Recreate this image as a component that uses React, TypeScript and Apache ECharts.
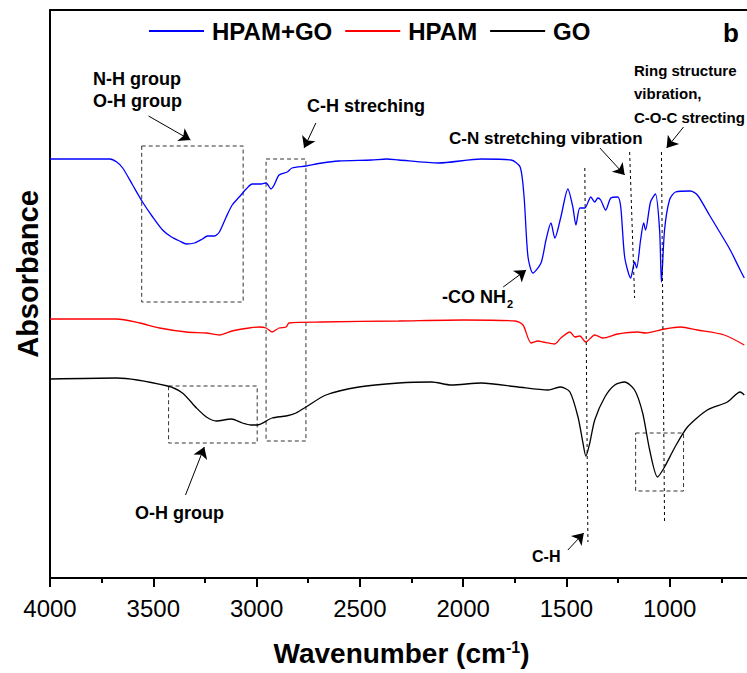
import React, { useEffect, useRef } from "react";
import * as echarts from "echarts";

// Wavenumber (cm-1) and absorbance (arbitrary units, offset traces)
const hpamGoWavenumber = [4000, 3855, 3711, 3677, 3648, 3600, 3552, 3503, 3455, 3412, 3373, 3339, 3301, 3262, 3238, 3204, 3180, 3147, 3118, 3084, 3050, 3021, 2978, 2954, 2930, 2915, 2891, 2852, 2828, 2761, 2684, 2602, 2443, 2370, 2312, 2120, 1912, 1768, 1724, 1705, 1686, 1662, 1623, 1599, 1575, 1556, 1527, 1493, 1469, 1454, 1435, 1411, 1382, 1363, 1348, 1334, 1310, 1285, 1252, 1237, 1218, 1189, 1170, 1160, 1141, 1126, 1117, 1093, 1069, 1049, 1040, 1025, 1001, 972, 900, 866, 808, 770, 707, 659, 639];
const hpamGoAbsorbance = [419, 419, 419, 416, 410, 393, 376, 361, 348, 341, 337, 334, 335, 339, 342, 342, 346, 361, 373, 381, 389, 394, 394, 395, 389, 393, 403, 406, 410, 412, 415, 417, 418, 419, 418, 415, 419, 418, 411, 381, 321, 305, 315, 338, 355, 340, 361, 389, 371, 353, 370, 370, 381, 376, 380, 378, 368, 380, 381, 371, 321, 300, 316, 310, 338, 355, 348, 376, 384, 348, 296, 348, 378, 386, 387, 383, 363, 350, 328, 308, 300];

const hpamWavenumber = [4000, 3677, 3566, 3470, 3339, 3243, 3180, 3118, 3036, 2987, 2954, 2925, 2891, 2857, 2843, 2684, 2312, 2000, 1748, 1710, 1671, 1637, 1613, 1556, 1527, 1483, 1459, 1435, 1406, 1363, 1324, 1252, 1155, 1117, 1025, 948, 866, 736, 639];
const hpamAbsorbance = [259, 259, 255, 250, 246, 245, 243, 247, 250, 251, 250, 246, 250, 251, 255, 256, 257, 258, 257, 253, 235, 237, 236, 234, 240, 246, 241, 242, 236, 243, 240, 244, 246, 245, 249, 251, 248, 243, 233];

const goWavenumber = [4000, 3677, 3431, 3359, 3291, 3243, 3195, 3122, 3069, 3026, 2997, 2925, 2857, 2809, 2761, 2664, 2505, 2312, 2153, 2057, 1912, 1734, 1589, 1527, 1483, 1444, 1420, 1406, 1387, 1363, 1314, 1266, 1218, 1170, 1131, 1097, 1059, 1025, 977, 914, 818, 721, 659, 639];
const goAbsorbance = [199, 200, 192, 185, 170, 161, 157, 159, 155, 153, 153, 160, 162, 165, 171, 183, 191, 195, 196, 193, 195, 191, 188, 191, 186, 161, 135, 122, 135, 158, 181, 193, 196, 188, 165, 128, 101, 111, 130, 151, 168, 176, 186, 183];

const seriesNames = ["HPAM+GO", "HPAM", "GO"];
const seriesColors = ["#0000ff", "#ff0000", "#000000"];

// Annotation geometry in data coordinates [wavenumber, absorbance]
const boxes = [
  [[3556, 432], [3065, 276]],
  [[2954, 419], [2761, 137]],
  [[3426, 192], [2997, 135]],
  [[1165, 145], [933, 87]],
];
const dashedLines = [
  [[1411, 410], [1396, 36]],
  [[1194, 426], [1170, 280]],
  [[1040, 426], [1025, 55]],
];
const arrows = [
  [[3523, 462], [3320, 438]],
  [[2713, 455], [2770, 430]],
  [[1338, 430], [1218, 403]],
  [[933, 451], [1015, 430]],
  [[1806, 291], [1695, 308]],
  [[3344, 83], [3253, 131]],
  [[1493, 28], [1416, 45]],
];

const FONT = '"Liberation Sans", Arial, Helvetica, sans-serif';

function zip(xs: number[], ys: number[]) {
  return xs.map((x, i) => [x, ys[i]]);
}

function label(text: string, x: number, y: number, size: number) {
  return {
    type: "text",
    x,
    y,
    silent: true,
    style: {
      text,
      fill: "#000",
      fontSize: size,
      fontWeight: "bold",
      fontFamily: FONT,
      align: "left",
      verticalAlign: "middle",
    },
  };
}

export default function App() {
  const ref = useRef<HTMLDivElement>(null);
  useEffect(() => {
    if (!ref.current) return;
    const chart = echarts.init(ref.current, null, { renderer: "svg" });
    const lineBase = {
      type: "line",
      showSymbol: false,
      symbol: "none",
      smooth: 0.25,
      silent: true,
      clip: true,
      xAxisIndex: 0,
      yAxisIndex: 0,
    };
    chart.setOption({
      animation: false,
      backgroundColor: "#fff",
      grid: { left: 50, right: 0, top: 10, bottom: 95 },
      legend: {
        data: seriesNames,
        left: 149,
        top: 19,
        padding: 0,
        icon: "rect",
        itemWidth: 55,
        itemHeight: 2,
        itemGap: 13,
        selectedMode: false,
        textStyle: {
          fontSize: 24,
          fontWeight: "bold",
          fontFamily: FONT,
          color: "#000",
          padding: [0, 0, 0, 3],
        },
      },
      xAxis: [
        {
          type: "value",
          min: 500,
          max: 4000,
          interval: 500,
          inverse: true,
          position: "bottom",
          name: "{a|Wavenumber (cm}{s|-1}{a|)}",
          nameLocation: "middle",
          nameGap: 61,
          nameTextStyle: {
            padding: [0, 20, 0, 0],
            rich: {
              a: { fontSize: 28, fontWeight: "bold", fontFamily: FONT, color: "#000", verticalAlign: "bottom" },
              s: { fontSize: 16, fontWeight: "bold", fontFamily: FONT, color: "#000", verticalAlign: "top" },
            },
          },
          axisLine: { show: true, onZero: false, lineStyle: { color: "#000", width: 2 } },
          axisTick: { show: true, inside: false, length: 9, lineStyle: { color: "#000", width: 2 } },
          minorTick: { show: true, splitNumber: 2, length: 5, lineStyle: { color: "#000", width: 2 } },
          axisLabel: {
            margin: 18,
            fontSize: 24,
            fontFamily: FONT,
            color: "#000",
            formatter: (v: number) => (v < 1000 ? "" : String(v)),
          },
          splitLine: { show: false },
          minorSplitLine: { show: false },
        },
        {
          type: "value",
          min: 500,
          max: 4000,
          interval: 500,
          inverse: true,
          position: "top",
          axisLine: { show: true, onZero: false, lineStyle: { color: "#000", width: 2 } },
          axisTick: { show: false },
          axisLabel: { show: false },
          splitLine: { show: false },
        },
      ],
      yAxis: {
        type: "value",
        min: 0,
        max: 568,
        name: "Absorbance",
        nameLocation: "middle",
        nameRotate: 90,
        nameGap: 8,
        nameTextStyle: {
          fontSize: 29,
          fontWeight: "bold",
          fontFamily: FONT,
          color: "#000",
          padding: [0, 0, 0, 40],
        },
        axisLine: { show: true, onZero: false, lineStyle: { color: "#000", width: 2 } },
        axisTick: { show: false },
        axisLabel: { show: false },
        splitLine: { show: false },
      },
      series: [
        {
          ...lineBase,
          name: seriesNames[0],
          data: zip(hpamGoWavenumber, hpamGoAbsorbance),
          lineStyle: { color: seriesColors[0], width: 1.3 },
          itemStyle: { color: seriesColors[0] },
          markLine: {
            silent: true,
            symbol: ["none", "arrow"],
            symbolSize: 11,
            label: { show: false },
            lineStyle: { color: "#000", width: 1, type: "solid" },
            data: arrows.map(([a, b]) => [{ coord: a }, { coord: b }]),
          },
        },
        {
          ...lineBase,
          name: seriesNames[1],
          data: zip(hpamWavenumber, hpamAbsorbance),
          lineStyle: { color: seriesColors[1], width: 1.3 },
          itemStyle: { color: seriesColors[1] },
          markLine: {
            silent: true,
            symbol: ["none", "none"],
            label: { show: false },
            lineStyle: { color: "#000", width: 1, type: [3, 3] },
            data: dashedLines.map(([a, b]) => [{ coord: a }, { coord: b }]),
          },
        },
        {
          ...lineBase,
          name: seriesNames[2],
          data: zip(goWavenumber, goAbsorbance),
          lineStyle: { color: seriesColors[2], width: 1.3 },
          itemStyle: { color: seriesColors[2] },
          markArea: {
            silent: true,
            label: { show: false },
            itemStyle: { color: "rgba(0,0,0,0)", borderColor: "#333", borderWidth: 1, borderType: [4, 3] },
            data: boxes.map(([a, b]) => [{ coord: a }, { coord: b }]),
          },
        },
      ],
      graphic: [
        label("b", 723, 33, 26),
        label("N-H group", 93, 79, 18),
        label("O-H group", 93, 101, 18),
        label("C-H streching", 307, 106, 18),
        label("C-N stretching vibration", 449, 138, 17),
        label("Ring structure", 634, 70, 15),
        label("vibration,", 634, 93, 15),
        label("C-O-C strecting", 634, 117, 15),
        label("-CO NH", 442, 297, 18),
        label("2", 507, 304, 11),
        label("O-H group", 135, 513, 18),
        label("C-H", 532, 556, 16),
      ],
    });
    return () => chart.dispose();
  }, []);
  return (
    <div
      ref={ref}
      style={{ position: "fixed", left: 0, top: 0, width: 776, height: 673, background: "#fff" }}
    />
  );
}
